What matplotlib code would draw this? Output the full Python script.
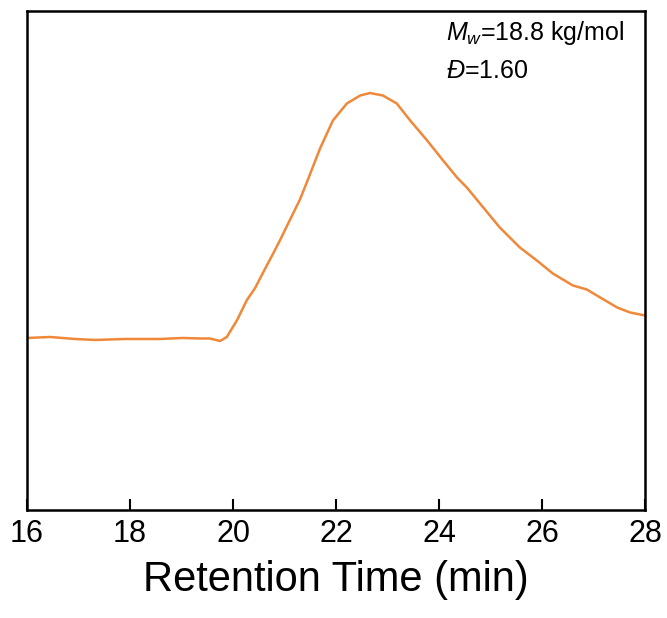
import matplotlib
matplotlib.use("Agg")
import matplotlib.pyplot as plt

plt.rcParams['font.family'] = ['Liberation Sans', 'DejaVu Sans']
plt.rcParams['mathtext.fontset'] = 'custom'
plt.rcParams['mathtext.rm'] = 'Liberation Sans'
plt.rcParams['mathtext.it'] = 'Liberation Sans:italic'

# GPC trace
time_min = [16.0, 16.45, 16.93, 17.32, 17.9, 18.58, 19.03, 19.36, 19.55, 19.75,
            19.88, 20.08, 20.27, 20.43, 20.58, 20.78, 20.91, 21.1, 21.3, 21.44, 21.69,
            21.94, 22.21, 22.47, 22.66, 22.91, 23.18, 23.44, 23.77, 24.08, 24.35,
            24.54, 25.18, 25.57, 25.9, 26.21, 26.6, 26.87, 27.13, 27.46, 27.71, 28.0]
signal = [0.345, 0.347, 0.343, 0.341, 0.343, 0.343, 0.345, 0.344, 0.344, 0.339,
          0.347, 0.381, 0.421, 0.445, 0.475, 0.514, 0.540, 0.580, 0.622, 0.658, 0.724,
          0.780, 0.814, 0.830, 0.835, 0.830, 0.814, 0.780, 0.740, 0.700, 0.666,
          0.646, 0.566, 0.526, 0.500, 0.474, 0.450, 0.442, 0.426, 0.406, 0.396, 0.390]

fig = plt.figure(figsize=(6.67, 6.18), dpi=100)
ax = fig.add_axes([0.0405, 0.174, 0.9265, 0.809])
ax.plot(time_min, signal, color='#F0883A', linewidth=1.8,
        solid_joinstyle='round', solid_capstyle='round')

ax.set_xlim(16, 28)
ax.set_ylim(0, 1)
ax.set_xticks([16, 18, 20, 22, 24, 26, 28])
ax.set_yticks([])
ax.tick_params(axis='x', direction='in', length=8, width=1.5, labelsize=22, pad=6)
for s in ax.spines.values():
    s.set_linewidth(1.8)

ax.set_xlabel('Retention Time (min)', fontsize=30, labelpad=8)

ax.text(0.678, 0.955, '$M_w$=18.8 kg/mol', transform=ax.transAxes,
        fontsize=18, va='center', ha='left')
ax.text(0.678, 0.88, '$\u0110$=1.60', transform=ax.transAxes,
        fontsize=18, va='center', ha='left')

fig.savefig('out.png', dpi=100)
